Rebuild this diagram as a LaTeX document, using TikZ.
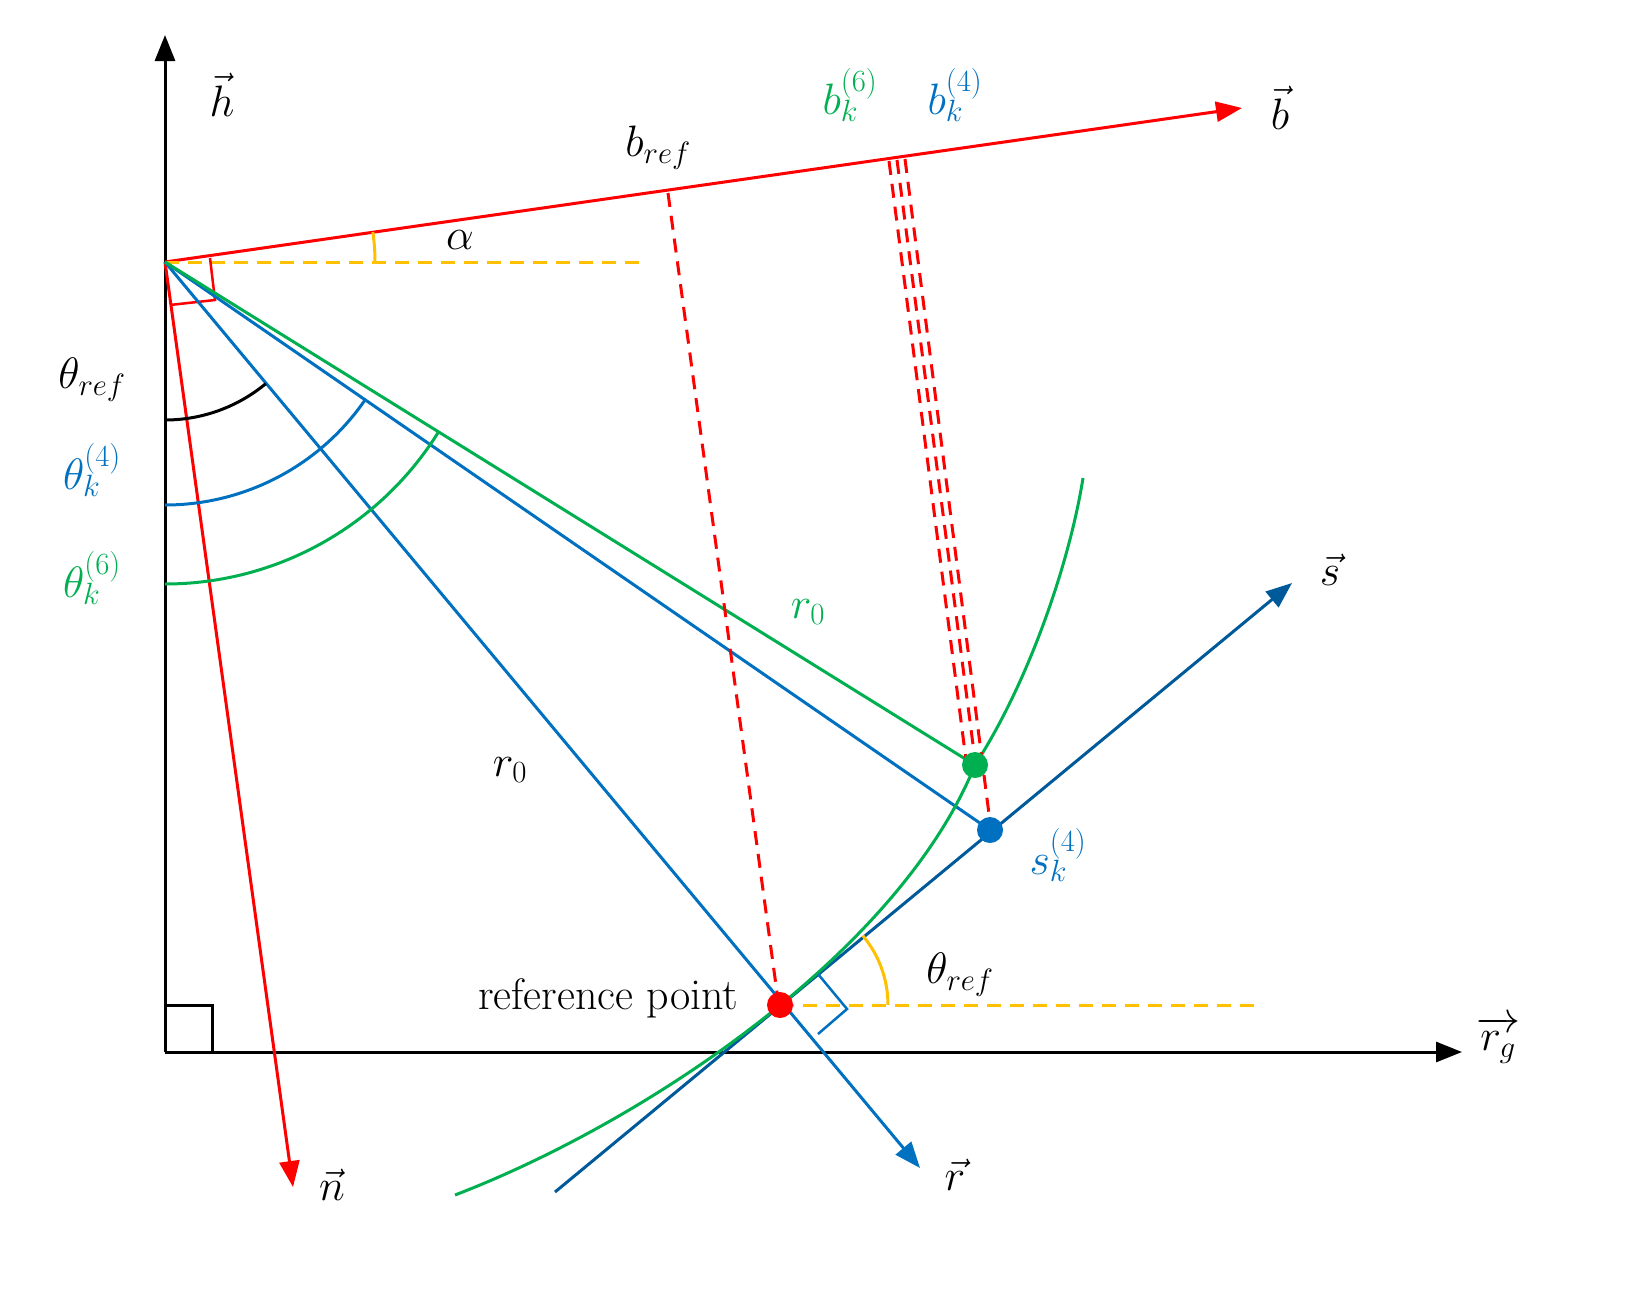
\RequirePackage{fix-cm}
\documentclass[tikz,border=0pt]{standalone}
\usetikzlibrary{arrows.meta}
\begin{document}
\definecolor{cb}{RGB}{0,112,192}
\definecolor{cg}{RGB}{0,176,80}
\definecolor{co}{RGB}{255,192,0}
\definecolor{cr}{RGB}{255,0,0}
\begin{tikzpicture}[x=1pt,y=-1pt,line width=3pt,
 arr/.style={-{Triangle[length=26pt,width=20pt]}},
 dsh/.style={dash pattern=on 14pt off 9pt},
 lab/.style={inner sep=0pt,font=\fontsize{44}{50}\selectfont}]
\useasboundingbox (0,0) rectangle (1651,1301);
\coordinate (O) at (165,1052);
\coordinate (P) at (165,262);
\coordinate (R) at (780,1005);
\coordinate (S) at (990,830);
\coordinate (G) at (975,765);
% axes
\draw[arr] (O) -- (165,35) coordinate (H);
\draw[arr] (O) -- (1462,1052) coordinate (RG);
\draw (165,1005) -| (212,1052);
% b axis
\draw[cr,arr] (P) -- (1242,108) coordinate (B);
\draw[co,dsh] (P) -- (645,262);
\draw[co] (P) ++(210,0) arc[start angle=0,end angle=-8.2,radius=210];
\draw[cr,line width=2.5pt] (170,305) -- (215,300) -- (210,258);
% n
\draw[cr,arr] (P) -- (293,1187) coordinate (N);
% r
\draw[cb,arr] (P) -- (920,1168) coordinate (Rv);
\draw[cb] (P) -- (S);
\draw[cg] (P) -- (G);
% arcs
\draw[black] (165,420) arc[start angle=90,end angle=50.4,radius=158];
\draw[cb] (165,505) arc[start angle=90,end angle=34.5,radius=243];
\draw[cg] (165,584) arc[start angle=90,end angle=31.8,radius=322];
% s axis
\draw[cb!80!black,arr] (555,1192) -- (1292,583) coordinate (Sv);
% green curve
\draw[cg] (455,1195) .. controls (650,1120) and (900,950) .. (G) .. controls (1030,680) and (1070,560) .. (1083,478);
% dashed red
\draw[cr,dsh] (668,193) -- (778,1000);
\draw[cr,dsh] (889,161) -- (966,760);
\draw[cr,dsh] (897,160) -- (975,760);
\draw[cr,dsh] (905,159) -- (990,822);
% orange at R
\draw[co,dsh] (R) -- (1262,1005);
\draw[co] (888,1005) arc[start angle=0,end angle=-40,radius=108];
\draw[cb,line width=2.5pt] (818,974) -- (847,1009) -- (818,1034);
% dots
\fill[cr] (R) circle (13);
\fill[cb] (S) circle (13);
\fill[cg] (G) circle (13);
% labels
\node[lab] at (222,95) {$\vec h$};
\node[lab] at (1280,108) {$\vec b$};
\node[lab] at (658,148) {$b_{ref}$};
\node[lab] at (460,240) {$\alpha$};
\node[lab,cg] at (850,95) {$b_k^{(6)}$};
\node[lab,cb] at (955,95) {$b_k^{(4)}$};
\node[lab] at (92,380) {$\theta_{ref}$};
\node[lab,cb] at (92,470) {$\theta_k^{(4)}$};
\node[lab,cg] at (92,578) {$\theta_k^{(6)}$};
\node[lab,cg] at (808,612) {$r_0$};
\node[lab] at (510,770) {$r_0$};
\node[lab,cb] at (1058,855) {$s_k^{(4)}$};
\node[lab] at (960,975) {$\theta_{ref}$};
\node[lab,anchor=east] at (740,998) {reference point};
\node[lab] at (1498,1040) {$\overrightarrow{r_g}$};
\node[lab] at (332,1185) {$\vec n$};
\node[lab] at (955,1175) {$\vec r$};
\node[lab] at (1330,570) {$\vec s$};
\end{tikzpicture}
\end{document}
